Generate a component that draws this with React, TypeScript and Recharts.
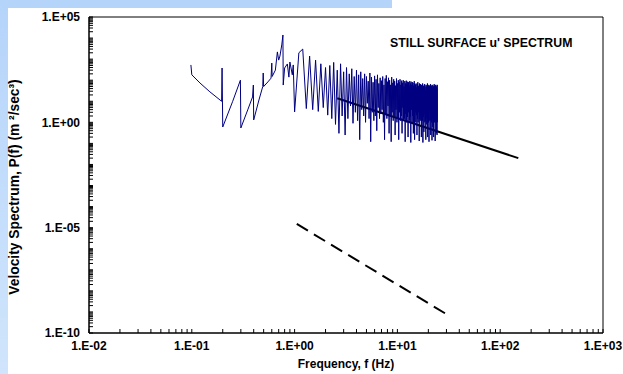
import React from 'react';
import { LineChart, Line, XAxis, YAxis, ReferenceArea } from 'recharts';

// Low-frequency part of the measured spectrum (Hz, m^2/sec^3)
const lowFreq = [0.098, 0.1, 0.12, 0.15, 0.195, 0.197, 0.2, 0.25, 0.297, 0.3, 0.35, 0.39, 0.397, 0.4, 0.45, 0.49, 0.495, 0.5, 0.55, 0.59, 0.6, 0.605, 0.65, 0.68, 0.7, 0.72, 0.75, 0.77, 0.775, 0.8, 0.85, 0.88, 0.9, 0.95, 0.97, 1.0];
const lowPsd = [530, 180, 74, 28, 10, 380, 0.6, 10, 100, 0.54, 3.9, 16, 59, 1.3, 11.5, 50, 220, 50, 83, 125, 650, 150, 300, 2200, 900, 1400, 4700, 14000, 59, 380, 590, 140, 730, 180, 530, 3.1];

// Dense part of the measured spectrum
const highFreq = [
  1.1, 1.2, 1.3, 1.4, 1.5, 1.6, 1.7, 1.8, 1.9, 2.0,
  2.1, 2.2, 2.3, 2.4, 2.5, 2.6, 2.7, 2.8, 2.9, 3.0,
  3.1, 3.2, 3.3, 3.4, 3.5, 3.6, 3.7, 3.8, 3.9, 4.0,
  4.1, 4.2, 4.3, 4.4, 4.5, 4.6, 4.7, 4.8, 4.9, 5.0,
  5.1, 5.2, 5.3, 5.4, 5.5, 5.6, 5.7, 5.8, 5.9, 6.0,
  6.1, 6.2, 6.3, 6.4, 6.5, 6.6, 6.7, 6.8, 6.9, 7.0,
  7.1, 7.2, 7.3, 7.4, 7.5, 7.6, 7.7, 7.8, 7.9, 8.0,
  8.1, 8.2, 8.3, 8.4, 8.5, 8.6, 8.7, 8.8, 8.9, 9.0,
  9.1, 9.2, 9.3, 9.4, 9.5, 9.6, 9.7, 9.8, 9.9, 10.0,
  10.1, 10.2, 10.3, 10.4, 10.5, 10.6, 10.7, 10.8, 10.9, 11.0,
  11.1, 11.2, 11.3, 11.4, 11.5, 11.6, 11.7, 11.8, 11.9, 12.0,
  12.1, 12.2, 12.3, 12.4, 12.5, 12.6, 12.7, 12.8, 12.9, 13.0,
  13.1, 13.2, 13.3, 13.4, 13.5, 13.6, 13.7, 13.8, 13.9, 14.0,
  14.1, 14.2, 14.3, 14.4, 14.5, 14.6, 14.7, 14.8, 14.9, 15.0,
  15.1, 15.2, 15.3, 15.4, 15.5, 15.6, 15.7, 15.8, 15.9, 16.0,
  16.1, 16.2, 16.3, 16.4, 16.5, 16.6, 16.7, 16.8, 16.9, 17.0,
  17.1, 17.2, 17.3, 17.4, 17.5, 17.6, 17.7, 17.8, 17.9, 18.0,
  18.1, 18.2, 18.3, 18.4, 18.5, 18.6, 18.7, 18.8, 18.9, 19.0,
  19.1, 19.2, 19.3, 19.4, 19.5, 19.6, 19.7, 19.8, 19.9, 20.0,
  20.1, 20.2, 20.3, 20.4, 20.5, 20.6, 20.7, 20.8, 20.9, 21.0,
  21.1, 21.2, 21.3, 21.4, 21.5, 21.6, 21.7, 21.8, 21.9, 22.0,
  22.1, 22.2, 22.3, 22.4, 22.5, 22.6, 22.7, 22.8, 22.9, 23.0,
  23.1, 23.2, 23.3, 23.4, 23.5, 23.6, 23.7, 23.8, 23.9, 24.0,
  24.1, 24.2, 24.3, 24.4, 24.5,
];
const highPsd = [
  2000, 3000, 4.5, 1400, 4, 900, 3.3, 600, 5, 400,
  2.2, 500, 1.5, 700, 0.8, 300, 0.3, 600, 2, 250,
  0.25, 400, 1.5, 200, 6, 350, 0.9, 150, 3, 300,
  1.2, 180, 0.15, 250, 4, 120, 2, 200, 1, 150,
  8, 90, 1.5, 220, 0.12, 140, 3, 80, 1.2, 160,
  2, 110, 0.4, 180, 5, 70, 1.5, 130, 2.5, 95,
  4, 150, 1, 60, 0.15, 120, 2.5, 170, 1.5, 85,
  6, 130, 0.3, 100, 1.8, 60, 0.12, 140, 3, 75,
  1.2, 110, 2, 90, 0.25, 55, 4, 120, 1, 70,
  1.5, 100, 0.15, 80, 3, 110, 1.2, 60, 2, 95,
  0.3, 75, 5, 100, 1.4, 50, 1.5, 90, 0.12, 70,
  2.5, 95, 1, 65, 1.8, 85, 0.2, 80, 3, 55,
  1.2, 90, 1.8, 70, 0.11, 85, 4, 60, 1, 80,
  2, 75, 0.3, 55, 1.2, 90, 0.15, 65, 3, 60,
  1, 70, 2.2, 45, 0.25, 65, 1.5, 80, 1, 50,
  3, 55, 0.13, 70, 1.5, 45, 1.2, 65, 2, 40,
  0.2, 60, 4, 50, 1.2, 70, 0.11, 45, 1.8, 55,
  0.35, 40, 2.5, 65, 1, 50, 1.2, 35, 0.15, 60,
  3, 45, 0.8, 55, 1.5, 70, 0.2, 40, 2, 50,
  1, 60, 0.12, 45, 3.5, 55, 1.2, 40, 1.3, 65,
  0.25, 40, 2, 55, 1, 45, 0.14, 60, 2.8, 40,
  0.6, 55, 1.6, 35, 0.2, 50, 3, 65, 1, 45,
  1.2, 55, 0.13, 40, 2.2, 60, 1, 45, 0.3, 50,
  1.8, 40, 0.25, 60, 1,
];

// -5/3 reference line (solid) and -3 reference line (dashed)
const solidRefFreq = [2.6, 150];
const solidRefPsd = [14, 0.02];
const dashedRefFreq = [1.05, 32];
const dashedRefPsd = [1.5e-5, 6.5e-10];

const xMajorTicks = [0.01, 0.1, 1, 10, 100, 1000];
const xTickLabels = ['1.E-02', '1.E-01', '1.E+00', '1.E+01', '1.E+02', '1.E+03'];
const yMajorTicks = [1e-10, 1e-5, 1, 1e5];
const yTickLabels = ['1.E-10', '1.E-05', '1.E+00', '1.E+05'];
const xDecades = [0.01, 0.1, 1, 10, 100];
const yDecades = [1e-10, 1e-9, 1e-8, 1e-7, 1e-6, 1e-5, 1e-4, 1e-3, 1e-2, 0.1, 1, 10, 100, 1e3, 1e4];
const minorSteps = [1, 2, 3, 4, 5, 6, 7, 8, 9];

const title = "STILL SURFACE u' SPECTRUM";
const xTitle = 'Frequency, f (Hz)';
const yTitle = 'Velocity Spectrum, P(f) (m \u00B2/sec\u00B3)';

const toRows = (fs: number[], ps: number[]) => fs.map((f, i) => ({ f, p: ps[i] }));
const spectrumData = [...toRows(lowFreq, lowPsd), ...toRows(highFreq, highPsd)];
const solidRefData = toRows(solidRefFreq, solidRefPsd);
const dashedRefData = toRows(dashedRefFreq, dashedRefPsd);

const xAllTicks = [...xDecades.flatMap((d) => minorSteps.map((m) => d * m)), 1000];
const yAllTicks = [...yDecades.flatMap((d) => minorSteps.map((m) => d * m)), 1e5];

const majorLabel = (ticks: number[], labels: string[], v: number) => {
  const i = ticks.findIndex((t) => Math.abs(Math.log10(t) - Math.log10(v)) < 1e-6);
  return i >= 0 ? labels[i] : '';
};

const FONT = '"Liberation Sans", Arial, sans-serif';
const TICK_SIZE = 6;
const X_MARGIN = 2;
const Y_MARGIN = 3;
const INNER = 4;

const XTick = (props: any) => {
  const { x, y, payload } = props;
  const axisY = y - TICK_SIZE - X_MARGIN;
  const lab = majorLabel(xMajorTicks, xTickLabels, payload.value);
  return (
    <g>
      <line x1={x} x2={x} y1={axisY} y2={axisY - INNER} stroke="#000" strokeWidth={1} />
      {lab && (
        <text x={x} y={y} dy="0.71em" textAnchor="middle" style={{ fontFamily: FONT, fontWeight: 'bold', fontSize: 12 }} fill="#000">
          {lab}
        </text>
      )}
    </g>
  );
};

const YTick = (props: any) => {
  const { x, y, payload } = props;
  const axisX = x + TICK_SIZE + Y_MARGIN;
  const lab = majorLabel(yMajorTicks, yTickLabels, payload.value);
  return (
    <g>
      <line x1={axisX} x2={axisX + INNER} y1={y} y2={y} stroke="#000" strokeWidth={1} />
      {lab && (
        <text x={x} y={y} dy="0.355em" textAnchor="end" style={{ fontFamily: FONT, fontWeight: 'bold', fontSize: 12 }} fill="#000">
          {lab}
        </text>
      )}
    </g>
  );
};

export default function App() {
  return (
    <div style={{ position: 'absolute', left: 0, top: 0, width: 623, height: 374, background: '#fff', overflow: 'hidden' }}>
      <div style={{ position: 'absolute', left: 0, top: 0, width: 392, height: 8, background: '#b5d4fa' }} />
      <div style={{ position: 'absolute', left: 0, top: 0, width: 8, height: 374, background: 'linear-gradient(#b5d4fa, #d0e5fc)' }} />
      <div style={{ position: 'absolute', left: 0, top: 0 }}>
        <LineChart width={623} height={374} margin={{ top: 17, right: 20, bottom: 0, left: 0 }}>
          <XAxis
            type="number"
            dataKey="f"
            scale="log"
            domain={[0.01, 1000]}
            allowDataOverflow
            ticks={xAllTicks}
            tick={<XTick />}
            tickLine={false}
            tickSize={TICK_SIZE}
            tickMargin={X_MARGIN}
            axisLine={{ stroke: '#000', strokeWidth: 1 }}
            height={41}
            interval={0}
            label={{
              content: (props: any) => {
                const vb = props.viewBox;
                return (
                  <text x={vb.x + vb.width / 2} y={vb.y + 35} textAnchor="middle" style={{ fontFamily: FONT, fontWeight: 'bold', fontSize: 12 }} fill="#000">
                    {xTitle}
                  </text>
                );
              },
            }}
          />
          <YAxis
            type="number"
            dataKey="p"
            scale="log"
            domain={[1e-10, 1e5]}
            allowDataOverflow
            ticks={yAllTicks}
            tick={<YTick />}
            tickLine={false}
            tickSize={TICK_SIZE}
            tickMargin={Y_MARGIN}
            interval={0}
            axisLine={{ stroke: '#000', strokeWidth: 1 }}
            width={89}
            label={{
              content: (props: any) => {
                const vb = props.viewBox;
                const cx = vb.x + 14;
                const cy = vb.y + vb.height / 2 + 12;
                return (
                  <text x={cx} y={cy} transform={`rotate(-90, ${cx}, ${cy})`} textAnchor="middle" dominantBaseline="central" style={{ fontFamily: FONT, fontWeight: 'bold', fontSize: 13.8 }} fill="#000">
                    {yTitle}
                  </text>
                );
              },
            }}
          />
          <ReferenceArea x1={0.01} x2={1000} y1={1e-10} y2={1e5} fill="none" stroke="#000" strokeWidth={1} ifOverflow="visible" />
          <Line data={dashedRefData} dataKey="p" stroke="#000" strokeWidth={2} strokeDasharray="13 7" dot={false} isAnimationActive={false} />
          <Line data={solidRefData} dataKey="p" stroke="#000" strokeWidth={2} dot={false} isAnimationActive={false} />
          <Line data={spectrumData} dataKey="p" stroke="#000080" strokeWidth={1} dot={false} isAnimationActive={false} />
        </LineChart>
      </div>
      <div style={{ position: 'absolute', left: 390, top: 36, fontFamily: FONT, fontWeight: 'bold', fontSize: 12.3, color: '#000', whiteSpace: 'nowrap' }}>{title}</div>
    </div>
  );
}
